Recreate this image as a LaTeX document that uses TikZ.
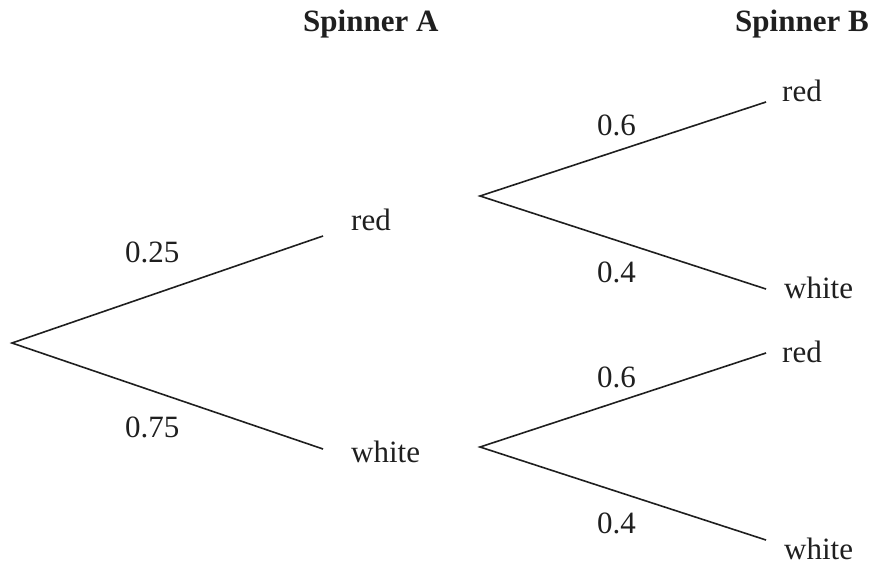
\documentclass[tikz,border=0pt]{standalone}
\usepackage{fontspec}
\setmainfont{Liberation Serif}
\begin{document}
\begin{tikzpicture}[x=1pt,y=-1pt,
  lbl/.style={anchor=base west,inner sep=0pt,font=\fontsize{31}{36}\selectfont,text=black!88},
  ttl/.style={anchor=base west,inner sep=0pt,font=\fontsize{31}{36}\selectfont\bfseries,text=black!88},
  branch/.style={draw=black!88,line width=1.6pt}]
\useasboundingbox (0,0) rectangle (875,565);
% titles
\node[ttl] (tA) at (303,31) {Spinner A};
\node[ttl] (tB) at (735,31) {Spinner B};
% branch points
\coordinate (root) at (12,343);
\coordinate (aR) at (323,236);
\coordinate (aW) at (323,449);
\coordinate (bR) at (480,196);
\coordinate (bW) at (480,447);
\coordinate (bRR) at (766,102);
\coordinate (bRW) at (766,289);
\coordinate (bWR) at (766,353);
\coordinate (bWW) at (766,540);
% first stage
\draw[branch] (aR) -- (root) -- (aW);
\node[lbl] (pAR) at (125,262) {0.25};
\node[lbl] (pAW) at (125,437) {0.75};
\node[lbl] (nAR) at (351,230) {red};
\node[lbl] (nAW) at (351,462) {white};
% second stage, after red
\draw[branch] (bRR) -- (bR) -- (bRW);
\node[lbl] (pRR) at (597,135) {0.6};
\node[lbl] (pRW) at (597,282) {0.4};
\node[lbl] (nRR) at (782,101) {red};
\node[lbl] (nRW) at (784,298) {white};
% second stage, after white
\draw[branch] (bWR) -- (bW) -- (bWW);
\node[lbl] (pWR) at (597,387) {0.6};
\node[lbl] (pWW) at (597,533) {0.4};
\node[lbl] (nWR) at (782,362) {red};
\node[lbl] (nWW) at (784,559) {white};
\end{tikzpicture}
\end{document}
